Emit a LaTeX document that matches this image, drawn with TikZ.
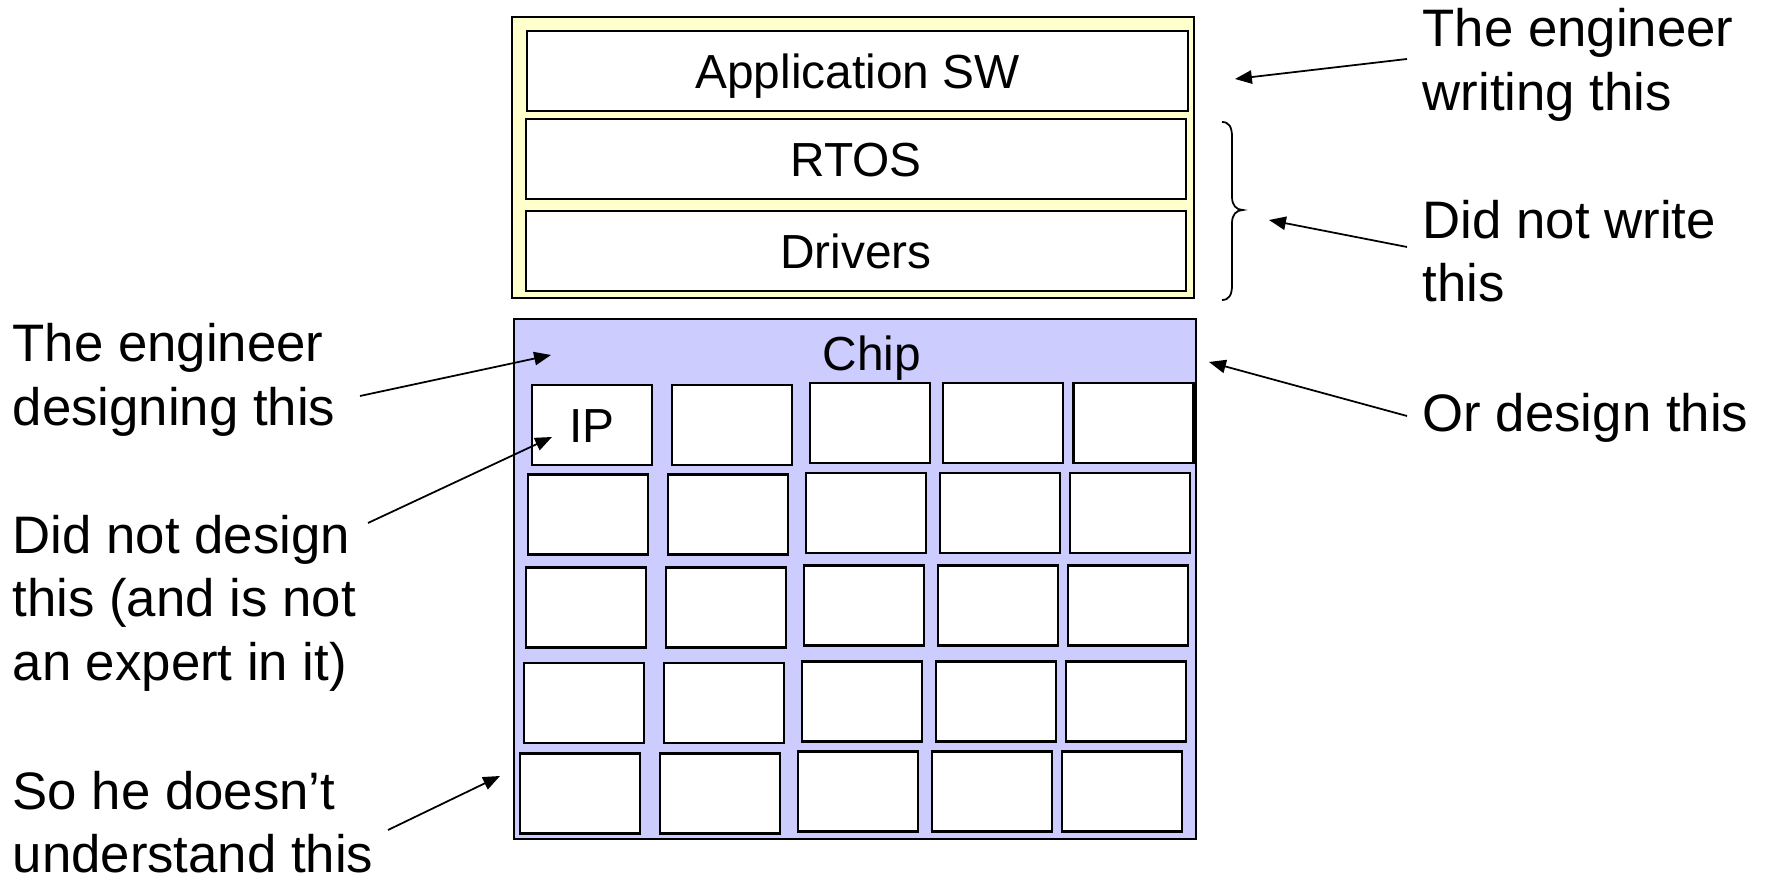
\documentclass[tikz,border=0pt]{standalone}
\usepackage{fontspec}
\setmainfont{Liberation Sans}
\usetikzlibrary{arrows.meta}
\definecolor{swyellow}{HTML}{FFFFCC}
\definecolor{chipblue}{HTML}{CCCCFF}
\newcommand{\lblfont}{\fontsize{15}{18}\selectfont}
\newcommand{\boxfont}{\fontsize{13.6}{16}\selectfont}
% stacked lines whose baseline is the first line's and whose depth is the last line's
\newcommand{\lines}[1]{\vtop{#1}}
\begin{document}
\begin{tikzpicture}[x=0.01cm, y=-0.01cm,
  outline/.style={draw, line width=0.7pt, inner sep=0pt},
  layer/.style={outline, fill=white, font=\boxfont, text height=9.74pt, text depth=0pt},
  block/.style={outline, fill=white, minimum width=1.2cm, minimum height=0.8cm,
                font=\boxfont, text height=9.74pt, text depth=0pt},
  lbl/.style={anchor=base west, inner sep=0pt, font=\lblfont},
  conn/.style={line width=0.5pt, -{Triangle[length=4.8pt, width=3.8pt]}},
  brace/.style={line width=0.5pt}]
\useasboundingbox (0,0) rectangle (1767,877);

% software stack
\node[outline, fill=swyellow, minimum width=6.82cm, minimum height=2.81cm] (stack) at (853,157.5) {};
\node[layer, minimum width=6.61cm, minimum height=0.80cm] (app) at (857.5,71) {Application SW};
\node[layer, minimum width=6.60cm, minimum height=0.80cm] (rtos) at (856,159) {RTOS};
\node[layer, minimum width=6.60cm, minimum height=0.80cm] (drv) at (856,251) {Drivers};

% chip with its IP blocks
\node[outline, fill=chipblue, minimum width=6.82cm, minimum height=5.20cm] (chip) at (855,579) {};
\node[anchor=base, inner sep=0pt, font=\boxfont] (chiplbl) at (872,370.5) {Chip};
\foreach \n/\x/\y in {
  b12/732/425, b13/870/423, b14/1003/423, b15/1133.5/423,
  b21/588/514.5, b22/728/514.5, b23/866/513, b24/1000/513, b25/1130/513,
  b31/586/607.5, b32/726/607.5, b33/864/605.5, b34/998/605.5, b35/1128/605.5,
  b41/584/703, b42/724/703, b43/862/701.5, b44/996/701.5, b45/1126/701.5,
  b51/580/793.5, b52/720/793.5, b53/858/791.5, b54/992/791.5, b55/1122/791.5}
  {\node[block] (\n) at (\x,\y) {};}
\node[block] (ip) at (592,425) {IP};

% brace over RTOS and drivers
\draw[brace] (1222,122) .. controls (1229,122) and (1232,127) .. (1232,137)
  -- (1232,197) .. controls (1232,205) and (1236,210) .. (1243,210)
  .. controls (1236,210) and (1232,215) .. (1232,223)
  -- (1232,285) .. controls (1232,295) and (1229,300) .. (1222,300);

% labels on the right
\node[lbl] (writing) at (1422,47) {\lines{\hbox{The engineer}\hbox{writing this}}};
\node[lbl] (notwrite) at (1422,238.5) {\lines{\hbox{Did not write}\hbox{this}}};
\node[lbl] (notdesign) at (1422,431.5) {Or design this};

% labels on the left
\node[lbl] (designing) at (12,362) {\lines{\hbox{The engineer}\hbox{designing this}}};
\node[lbl] (notexpert) at (12,553.5) {\lines{\hbox{Did not design}\hbox{this (and is not}\hbox{an expert in it)}}};
\node[lbl] (notunderstand) at (12,809.5) {\lines{\hbox{So he doesn’t}\hbox{understand this}}};

% arrow ends
\coordinate (writing-s) at (1407,59);    \coordinate (writing-t) at (1235,79);
\coordinate (notwrite-s) at (1407,247);  \coordinate (notwrite-t) at (1269,220);
\coordinate (notdesign-s) at (1407,416); \coordinate (notdesign-t) at (1209,362);
\coordinate (designing-s) at (360,396);  \coordinate (designing-t) at (551,355);
\coordinate (notexpert-s) at (368,523);  \coordinate (notexpert-t) at (552,437);
\coordinate (notunderstand-s) at (388,830); \coordinate (notunderstand-t) at (500,776);

\draw[conn] (writing-s) -- (writing-t);
\draw[conn] (notwrite-s) -- (notwrite-t);
\draw[conn] (notdesign-s) -- (notdesign-t);
\draw[conn] (designing-s) -- (designing-t);
\draw[conn] (notexpert-s) -- (notexpert-t);
\draw[conn] (notunderstand-s) -- (notunderstand-t);
\end{tikzpicture}
\end{document}
